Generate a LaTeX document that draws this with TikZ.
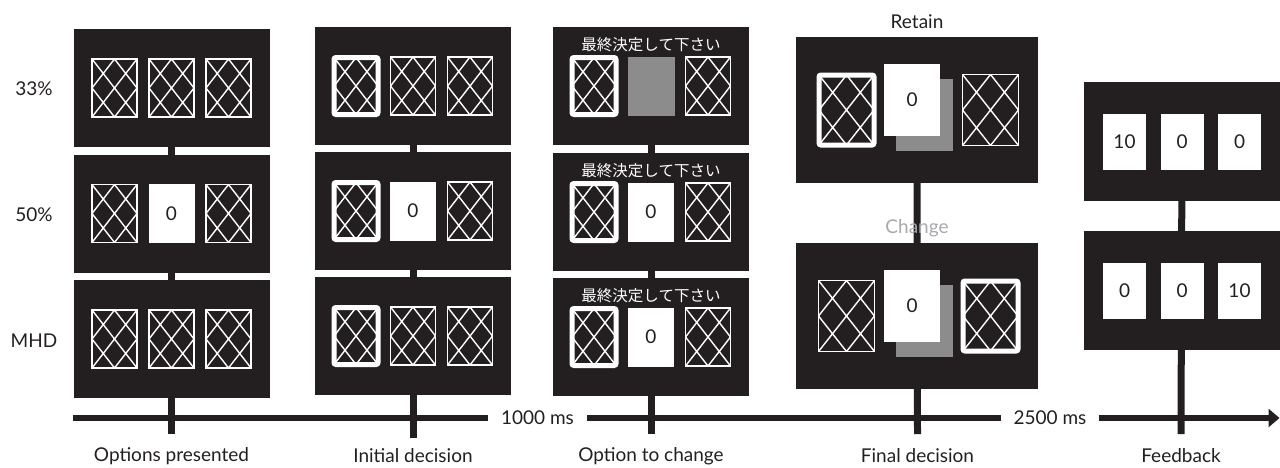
\documentclass[tikz,border=0pt]{standalone}
\usepackage{fontspec}
\setmainfont{Lato}
\newfontfamily\jpfont{Noto Sans CJK JP}
\usetikzlibrary{arrows.meta,backgrounds}

\definecolor{panelc}{HTML}{231F20}
\definecolor{shade}{HTML}{8C8C8C}
\definecolor{softgray}{HTML}{A7A9AC}

\tikzset{
  panel/.style={fill=panelc, inner sep=0pt, minimum width=196pt, minimum height=118pt},
  widepanel/.style={panel, minimum width=242pt, minimum height=146pt},
  fbpanel/.style={panel, minimum width=196pt, minimum height=119pt},
  lattice/.style={path picture={
      \draw[white, line width=1.4pt, sharp corners]
        (path picture bounding box.north west) -- (path picture bounding box.south east)
        (path picture bounding box.north east) -- (path picture bounding box.south west)
        (path picture bounding box.north) -- (path picture bounding box.west)
        -- (path picture bounding box.south) -- (path picture bounding box.east) -- cycle;}},
  card/.style={lattice, draw=white, line width=1.5pt, inner sep=0pt,
    minimum width=45pt, minimum height=58pt},
  pick/.style={lattice, draw=white, line width=5pt, rounded corners=2pt, inner sep=0pt,
    minimum width=44pt, minimum height=57pt},
  face/.style={fill=white, inner sep=0pt, minimum width=46pt, minimum height=59pt,
    text=panelc, font=\fontsize{19}{21}\selectfont},
  blank/.style={fill=shade, inner sep=0pt, minimum width=47pt, minimum height=59pt},
  bigcard/.style={card, minimum width=56pt, minimum height=71pt},
  bigpick/.style={pick, minimum width=55pt, minimum height=70pt},
  bigface/.style={face, minimum width=56pt, minimum height=72pt},
  bigshade/.style={fill=shade, inner sep=0pt, minimum width=57pt, minimum height=72pt},
  fbface/.style={face, minimum width=43pt, minimum height=56pt},
  prompt/.style={text=white, inner sep=0pt, font=\jpfont\fontsize{15.5}{17}\selectfont},
  lbl/.style={text=panelc, inner sep=0pt, font=\fontsize{19}{22}\selectfont},
  stem/.style={draw=panelc, line width=7pt},
  axis/.style={draw=panelc, line width=6.5pt},
}

\begin{document}
\begin{tikzpicture}[x=1pt, y=-1pt]
\useasboundingbox (0,0) rectangle (1280,467);

% ---- column 1: options presented
\node[panel] (c1r1) at (171.5,88) {};
\node[card] (c1r1a) at (114.5,88) {};
\node[card] (c1r1b) at (171.5,88) {};
\node[card] (c1r1c) at (228.5,88) {};
\node[panel] (c1r2) at (171.5,213.5) {};
\node[card] (c1r2a) at (114.5,213.5) {};
\node[face] (c1r2b) at (171.5,213.5) {0};
\node[card] (c1r2c) at (228.5,213.5) {};
\node[panel] (c1r3) at (171.5,339) {};
\node[card] (c1r3a) at (114.5,339) {};
\node[card] (c1r3b) at (171.5,339) {};
\node[card] (c1r3c) at (228.5,339) {};

% ---- column 2: initial decision
\node[panel] (c2r1) at (413,86) {};
\node[pick] (c2r1a) at (356,86) {};
\node[card] (c2r1b) at (413,86) {};
\node[card] (c2r1c) at (470,86) {};
\node[panel] (c2r2) at (413,211) {};
\node[pick] (c2r2a) at (356,211) {};
\node[face] (c2r2b) at (413,211) {0};
\node[card] (c2r2c) at (470,211) {};
\node[panel] (c2r3) at (413,336) {};
\node[pick] (c2r3a) at (356,336) {};
\node[card] (c2r3b) at (413,336) {};
\node[card] (c2r3c) at (470,336) {};

% ---- column 3: option to change
\node[panel] (c3r1) at (651,86) {};
\node[prompt] (c3r1t) at (651,45) {最終決定して下さい};
\node[pick] (c3r1a) at (594,86) {};
\node[blank] (c3r1b) at (651,86) {};
\node[card] (c3r1c) at (708,86) {};
\node[panel] (c3r2) at (651,212) {};
\node[prompt] (c3r2t) at (651,171) {最終決定して下さい};
\node[pick] (c3r2a) at (594,212) {};
\node[face] (c3r2b) at (651,212) {0};
\node[card] (c3r2c) at (708,212) {};
\node[panel] (c3r3) at (651,337) {};
\node[prompt] (c3r3t) at (651,296) {最終決定して下さい};
\node[pick] (c3r3a) at (594,337) {};
\node[face] (c3r3b) at (651,337) {0};
\node[card] (c3r3c) at (708,337) {};

% ---- column 4: final decision
\node[lbl] (retain) at (917,22) {Retain};
\node[widepanel] (c4r1) at (917,110) {};
\node[bigpick] (c4r1a) at (846.5,110) {};
\node[bigshade] (c4r1s) at (924.5,115) {};
\node[bigface] (c4r1b) at (912,100) {0};
\node[bigcard] (c4r1c) at (990.5,110) {};
\node[lbl, text=softgray] (change) at (917,228) {Change};
\node[widepanel] (c4r2) at (917,316) {};
\node[bigcard] (c4r2a) at (846.5,316) {};
\node[bigshade] (c4r2s) at (924.5,321) {};
\node[bigface] (c4r2b) at (912,306) {0};
\node[bigpick] (c4r2c) at (990.5,316) {};

% ---- column 5: feedback
\node[fbpanel] (c5r1) at (1182,141.5) {};
\node[fbface] (c5r1a) at (1124.5,141.5) {10};
\node[fbface] (c5r1b) at (1182,141.5) {0};
\node[fbface] (c5r1c) at (1239.5,141.5) {0};
\node[fbpanel] (c5r2) at (1182,290.5) {};
\node[fbface] (c5r2a) at (1124.5,290.5) {0};
\node[fbface] (c5r2b) at (1182,290.5) {0};
\node[fbface] (c5r2c) at (1239.5,290.5) {10};

% ---- row labels
\node[lbl] (p33) at (34,89) {33\%};
\node[lbl] (p50) at (34,215) {50\%};
\node[lbl] (pmhd) at (34,341) {MHD};

% ---- time axis
\coordinate (t1) at (171.5,434);
\coordinate (t2) at (413,438);
\coordinate (t3) at (651,434);
\coordinate (t4) at (917.5,434);
\coordinate (t5) at (1181,434);
\coordinate (axstart) at (73,418);
\coordinate (axend) at (1279.5,418);
\node[lbl, inner xsep=13pt] (d1) at (537.5,418) {1000 ms};
\node[lbl, inner xsep=12pt] (d2) at (1050,418) {2500 ms};
\draw[axis] (axstart) -- (d1.west);
\draw[axis] (d1.east) -- (d2.west);
\draw[axis, -{Triangle[length=11pt, width=18pt]}] (d2.east) -- (axend);

% ---- stems joining each column to the axis
\begin{scope}[on background layer]
\draw[stem] (c1r1.center) -- (t1);
\draw[stem] (c2r1.center) -- (t2);
\draw[stem] (c3r1.center) -- (t3);
\draw[stem] (c4r1.center) -- (t4);
\draw[stem] (c5r1.center) -- (t5);
\end{scope}

% ---- stage names
\node[lbl] (s1) at (171.5,456) {Options presented};
\node[lbl] (s2) at (413,456) {Initial decision};
\node[lbl] (s3) at (651,456) {Option to change};
\node[lbl] (s4) at (917.5,456) {Final decision};
\node[lbl] (s5) at (1181,456) {Feedback};
\end{tikzpicture}
\end{document}
